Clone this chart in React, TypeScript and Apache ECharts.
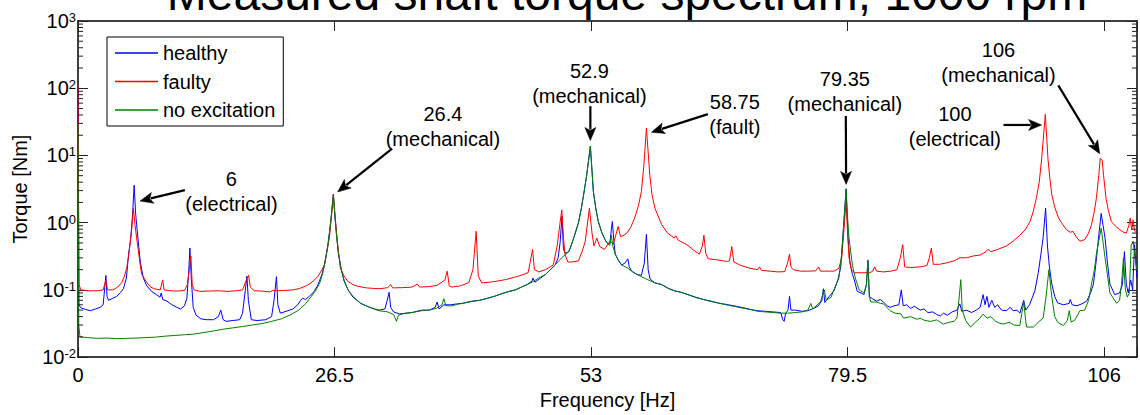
import React, { useEffect, useRef } from 'react';
import * as echarts from 'echarts';

const FONT = '"Liberation Sans", Arial, Helvetica, sans-serif';

const titleText = 'Measured shaft torque spectrum, 1000 rpm';
const xTicks = [0, 26.5, 53, 79.5, 106];
const X_MAX = 109.4;
const seriesNames = ['healthy', 'faulty', 'no excitation'];
const seriesColors = ['#0000ff', '#ff0000', '#008000'];

// [frequency Hz, torque Nm]
const healthy: [number, number][] = [
  [0, 105], [0.1, 0.06], [0.3, 0.054], [0.8, 0.051], [1.3, 0.049], [1.8, 0.052], [2.3, 0.055], [2.6, 0.06],
  [2.88, 0.164], [3.0, 0.08], [3.15, 0.07], [3.6, 0.075], [4.0, 0.08], [4.4, 0.092], [4.7, 0.105], [5.0, 0.15],
  [5.21, 0.32], [5.45, 0.6], [5.62, 1.2], [5.8, 3.6], [5.95, 1.4], [6.1, 0.8], [6.24, 0.5], [6.45, 0.25],
  [6.75, 0.15], [7.1, 0.115], [7.6, 0.095], [8.1, 0.085], [8.47, 0.078], [8.6, 0.09], [8.75, 0.072], [9.2, 0.068],
  [9.7, 0.06], [10.2, 0.055], [10.6, 0.052], [11.0, 0.058], [11.25, 0.075], [11.45, 0.2], [11.56, 0.42], [11.7, 0.15],
  [11.9, 0.055], [12.2, 0.042], [12.7, 0.037], [13.3, 0.036], [14.0, 0.036], [14.5, 0.04], [14.75, 0.05], [15.0, 0.036],
  [15.3, 0.034], [16.0, 0.035], [16.7, 0.036], [17.0, 0.045], [17.25, 0.09], [17.45, 0.16], [17.6, 0.07], [17.9, 0.036],
  [18.5, 0.035], [19.4, 0.036], [20.0, 0.04], [20.25, 0.07], [20.5, 0.157], [20.65, 0.06], [20.9, 0.045], [21.5, 0.048],
  [22.2, 0.052], [22.7, 0.06], [23.0, 0.07], [23.2, 0.075], [23.5, 0.072], [23.9, 0.08], [24.4, 0.095], [24.8, 0.12],
  [25.2, 0.17], [25.5, 0.25], [25.8, 0.45], [26.0, 0.75], [26.2, 1.4], [26.38, 2.65], [26.55, 1.2], [26.7, 0.7],
  [26.9, 0.35], [27.2, 0.2], [27.5, 0.135], [27.9, 0.1], [28.4, 0.078], [29.2, 0.063], [30.0, 0.056], [30.6, 0.052],
  [31.1, 0.05], [31.7, 0.052], [31.95, 0.07], [32.14, 0.092], [32.3, 0.055], [32.6, 0.047], [33.2, 0.044], [34.0, 0.045],
  [34.5, 0.046], [35.5, 0.05], [36.3, 0.05], [36.9, 0.055], [37.1, 0.066], [37.3, 0.052], [37.8, 0.06], [38.5, 0.06],
  [39.2, 0.062], [39.7, 0.063], [40.7, 0.068], [41.5, 0.07], [42.3, 0.075], [43.1, 0.081], [43.8, 0.088], [44.5, 0.095],
  [45.2, 0.1], [45.8, 0.11], [46.4, 0.12], [46.9, 0.135], [47.0, 0.15], [47.2, 0.13], [47.8, 0.15], [48.3, 0.17],
  [48.8, 0.2], [49.3, 0.235], [49.6, 0.3], [49.8, 0.5], [50.0, 1.25], [50.15, 0.4], [50.35, 0.35], [50.7, 0.37],
  [51.0, 0.48], [51.3, 0.65], [51.7, 1.0], [52.0, 1.64], [52.3, 3.0], [52.55, 5.1], [52.93, 13.8], [53.24, 2.9],
  [53.5, 1.6], [53.75, 1.04], [54.1, 0.72], [54.44, 0.56], [54.75, 0.48], [54.95, 0.5], [55.1, 0.8], [55.2, 1.04],
  [55.35, 0.55], [55.5, 0.34], [55.8, 0.28], [56.15, 0.235], [56.5, 0.25], [56.8, 0.29], [56.95, 0.22], [57.2, 0.19],
  [57.7, 0.17], [58.2, 0.165], [58.5, 0.25], [58.72, 0.67], [58.9, 0.2], [59.1, 0.145], [59.6, 0.127], [60.3, 0.12],
  [61.0, 0.105], [61.6, 0.097], [62.3, 0.092], [63.0, 0.085], [63.8, 0.078], [64.6, 0.072], [65.4, 0.068], [66.3, 0.063],
  [67.2, 0.06], [68.0, 0.057], [68.8, 0.054], [69.5, 0.051], [70.2, 0.049], [71.0, 0.048], [71.8, 0.047], [72.6, 0.046],
  [72.8, 0.036], [72.95, 0.034], [73.1, 0.045], [73.35, 0.05], [73.5, 0.08], [73.65, 0.05], [74.1, 0.05], [74.8, 0.048],
  [75.4, 0.049], [76.0, 0.053], [76.5, 0.058], [76.85, 0.07], [77.0, 0.104], [77.15, 0.065], [77.6, 0.08], [78.1, 0.097],
  [78.5, 0.14], [78.8, 0.22], [79.05, 0.74], [79.35, 3.2], [79.55, 0.6], [79.75, 0.25], [80.0, 0.17], [80.2, 0.14],
  [80.5, 0.095], [80.9, 0.09], [81.2, 0.085], [81.45, 0.12], [81.6, 0.27], [81.75, 0.08], [82.05, 0.074], [82.5, 0.068],
  [82.9, 0.072], [83.2, 0.066], [83.6, 0.058], [83.9, 0.055], [84.3, 0.058], [84.8, 0.06], [85.05, 0.1], [85.25, 0.058],
  [85.6, 0.06], [86.0, 0.053], [86.4, 0.057], [87.0, 0.05], [87.4, 0.052], [87.8, 0.046], [88.3, 0.047], [88.7, 0.043],
  [89.1, 0.041], [89.4, 0.045], [89.8, 0.042], [90.3, 0.047], [90.8, 0.05], [91.1, 0.062], [91.3, 0.048], [91.8, 0.05],
  [92.3, 0.046], [92.8, 0.05], [93.2, 0.055], [93.5, 0.085], [93.7, 0.06], [93.9, 0.08], [94.1, 0.055], [94.4, 0.07],
  [94.7, 0.055], [95.0, 0.06], [95.4, 0.05], [95.9, 0.049], [96.3, 0.055], [96.6, 0.049], [97.0, 0.05], [97.3, 0.045],
  [97.7, 0.07], [97.9, 0.05], [98.3, 0.06], [98.85, 0.097], [99.2, 0.18], [99.45, 0.32], [99.7, 0.6], [99.96, 1.64],
  [100.15, 0.45], [100.35, 0.22], [100.6, 0.122], [100.9, 0.08], [101.2, 0.064], [101.8, 0.06], [102.4, 0.063], [102.5, 0.072],
  [102.7, 0.06], [103.2, 0.058], [103.7, 0.062], [104.2, 0.068], [104.6, 0.09], [104.9, 0.122], [105.2, 0.28], [105.45, 0.65],
  [105.7, 1.37], [105.9, 0.9], [106.1, 0.59], [106.35, 0.25], [106.6, 0.122], [107.1, 0.085], [107.6, 0.09], [107.9, 0.12],
  [108.1, 0.37], [108.3, 0.12], [108.5, 0.09], [108.75, 0.14], [108.95, 0.1], [109.15, 0.47], [109.4, 0.15],
];

const faulty: [number, number][] = [
  [0, 110], [0.1, 0.12], [0.3, 0.1], [1.0, 0.097], [2.0, 0.097], [2.6, 0.1], [2.88, 0.14], [3.05, 0.1],
  [3.6, 0.1], [4.1, 0.11], [4.53, 0.129], [4.8, 0.16], [5.04, 0.214], [5.2, 0.3], [5.37, 0.47], [5.55, 0.8],
  [5.72, 1.64], [5.9, 0.9], [6.05, 0.6], [6.24, 0.378], [6.4, 0.25], [6.58, 0.171], [7.1, 0.129], [7.5, 0.11],
  [7.96, 0.103], [8.5, 0.1], [8.74, 0.14], [8.9, 0.1], [9.5, 0.097], [10.3, 0.096], [11.0, 0.098], [11.3, 0.12],
  [11.5, 0.2], [11.66, 0.32], [11.8, 0.12], [12.0, 0.1], [12.6, 0.095], [13.5, 0.096], [14.5, 0.097], [15.5, 0.095],
  [16.4, 0.097], [17.0, 0.1], [17.3, 0.13], [17.62, 0.165], [17.8, 0.11], [18.2, 0.097], [19.0, 0.096], [19.8, 0.093],
  [20.1, 0.098], [20.5, 0.097], [21.3, 0.098], [22.2, 0.1], [22.9, 0.105], [23.7, 0.117], [24.3, 0.135], [24.8, 0.16],
  [25.2, 0.2], [25.45, 0.235], [25.7, 0.36], [25.96, 0.59], [26.15, 1.1], [26.38, 2.6], [26.55, 1.3], [26.75, 0.6],
  [27.1, 0.21], [27.5, 0.16], [27.85, 0.135], [28.4, 0.12], [28.9, 0.113], [29.8, 0.107], [30.6, 0.105], [31.2, 0.104],
  [32.0, 0.108], [32.3, 0.12], [32.5, 0.107], [33.5, 0.108], [34.5, 0.11], [35.05, 0.122], [35.3, 0.11], [36.3, 0.112],
  [37.1, 0.117], [37.9, 0.14], [38.14, 0.19], [38.35, 0.115], [38.6, 0.11], [39.5, 0.115], [40.37, 0.128], [40.8, 0.2],
  [41.13, 0.745], [41.35, 0.16], [41.7, 0.127], [42.5, 0.13], [43.3, 0.135], [44.15, 0.142], [45.5, 0.16], [46.5, 0.18],
  [46.8, 0.3], [46.96, 0.4], [47.15, 0.2], [47.6, 0.185], [48.3, 0.2], [49.1, 0.235], [49.5, 0.45], [49.8, 1.0],
  [49.98, 1.55], [50.15, 0.6], [50.3, 0.34], [50.6, 0.26], [51.0, 0.26], [51.7, 0.27], [52.1, 0.38], [52.4, 0.53],
  [52.83, 1.64], [53.1, 0.7], [53.3, 0.45], [53.6, 0.59], [53.9, 0.44], [54.4, 0.4], [54.95, 0.53], [55.3, 0.48],
  [55.8, 0.88], [56.05, 0.62], [56.4, 0.65], [56.7, 0.7], [57.1, 0.85], [57.5, 1.17], [57.9, 1.8], [58.2, 2.9],
  [58.45, 7], [58.72, 25.4], [59.07, 5.08], [59.3, 2.6], [59.6, 1.64], [60.3, 0.93], [60.9, 0.7], [61.6, 0.59],
  [61.75, 0.64], [62.0, 0.55], [63.0, 0.46], [63.6, 0.39], [64.2, 0.34], [64.5, 0.45], [64.66, 0.65], [64.85, 0.35],
  [65.1, 0.29], [66.0, 0.28], [67.0, 0.265], [67.3, 0.27], [67.54, 0.44], [67.75, 0.26], [68.5, 0.23], [69.4, 0.21],
  [70.2, 0.2], [70.4, 0.22], [70.6, 0.195], [71.5, 0.19], [72.3, 0.185], [73.0, 0.187], [73.3, 0.25], [73.5, 0.34],
  [73.65, 0.22], [73.9, 0.2], [74.6, 0.19], [75.4, 0.19], [76.2, 0.192], [76.5, 0.22], [76.7, 0.19], [77.4, 0.19],
  [78.1, 0.19], [78.6, 0.21], [78.9, 0.3], [79.1, 0.7], [79.35, 2.1], [79.5, 0.7], [79.65, 0.3], [79.9, 0.2],
  [80.2, 0.18], [81.0, 0.18], [81.8, 0.18], [82.1, 0.19], [82.3, 0.22], [82.5, 0.19], [83.2, 0.185], [84.0, 0.19],
  [84.6, 0.2], [84.95, 0.3], [85.2, 0.47], [85.4, 0.22], [86.0, 0.215], [87.0, 0.22], [87.7, 0.23], [87.95, 0.3],
  [88.16, 0.42], [88.35, 0.24], [89.0, 0.24], [89.6, 0.25], [90.5, 0.27], [91.1, 0.3], [91.8, 0.3], [92.5, 0.32],
  [93.2, 0.33], [93.8, 0.37], [94.0, 0.4], [94.3, 0.37], [95.0, 0.4], [95.9, 0.45], [96.6, 0.53], [97.3, 0.65],
  [97.9, 0.8], [98.35, 1.04], [98.7, 1.5], [99.0, 2.3], [99.3, 4], [99.55, 8.9], [99.93, 41], [100.2, 9],
  [100.4, 4.5], [100.6, 2.6], [100.9, 1.7], [101.3, 1.17], [101.7, 0.95], [102.1, 0.79], [102.5, 0.72], [102.8, 0.74],
  [103.1, 0.62], [103.5, 0.53], [104.0, 0.56], [104.4, 0.7], [104.7, 0.93], [105.0, 1.5], [105.2, 2.3], [105.45, 5.0],
  [105.6, 9.0], [105.8, 8.5], [105.95, 5.0], [106.2, 2.3], [106.45, 1.5], [106.75, 1.04], [107.2, 0.88], [107.6, 0.79],
  [108.0, 0.72], [108.3, 0.7], [108.55, 0.9], [108.7, 1.17], [108.85, 0.78], [109.0, 1.1], [109.15, 0.75], [109.4, 0.7],
];

const noExcitation: [number, number][] = [
  [0, 30], [0.08, 0.03], [0.2, 0.02], [1.0, 0.0195], [2.0, 0.019], [3.0, 0.0192], [4.0, 0.0188], [5.0, 0.019],
  [6.0, 0.0192], [7.0, 0.0195], [8.0, 0.0198], [9.0, 0.0205], [10.0, 0.021], [11.0, 0.0215], [12.0, 0.022], [13.0, 0.0232],
  [14.0, 0.0245], [15.0, 0.026], [16.0, 0.0272], [17.0, 0.0285], [18.0, 0.03], [19.0, 0.0315], [20.0, 0.034], [21.0, 0.037],
  [22.0, 0.043], [22.8, 0.05], [23.5, 0.062], [24.1, 0.08], [24.6, 0.1], [25.0, 0.13], [25.3, 0.18], [25.6, 0.3],
  [25.85, 0.5], [26.1, 1.0], [26.38, 2.6], [26.55, 1.2], [26.7, 0.65], [26.9, 0.35], [27.2, 0.2], [27.5, 0.135],
  [27.9, 0.1], [28.4, 0.08], [29.2, 0.063], [30.0, 0.056], [30.6, 0.052], [31.1, 0.049], [32.0, 0.047], [32.6, 0.043],
  [32.9, 0.034], [33.1, 0.042], [33.8, 0.045], [34.5, 0.046], [35.5, 0.049], [36.3, 0.05], [37.0, 0.053], [37.6, 0.06],
  [37.8, 0.074], [38.0, 0.058], [38.6, 0.058], [39.2, 0.061], [39.7, 0.063], [40.7, 0.067], [41.5, 0.07], [42.3, 0.075],
  [43.1, 0.081], [43.8, 0.088], [44.5, 0.094], [45.2, 0.1], [45.8, 0.11], [46.4, 0.12], [46.9, 0.13], [47.6, 0.15],
  [48.3, 0.17], [48.8, 0.2], [49.3, 0.235], [49.97, 0.3], [50.4, 0.34], [50.7, 0.37], [51.0, 0.48], [51.3, 0.65],
  [51.7, 1.0], [52.0, 1.64], [52.3, 3.0], [52.55, 5.1], [52.93, 13.8], [53.24, 2.9], [53.5, 1.6], [53.75, 1.04],
  [54.1, 0.72], [54.44, 0.56], [54.75, 0.48], [54.95, 0.46], [55.1, 0.65], [55.25, 0.45], [55.5, 0.34], [55.8, 0.28],
  [56.15, 0.235], [56.8, 0.21], [57.2, 0.19], [57.9, 0.165], [58.7, 0.145], [59.6, 0.127], [60.3, 0.12], [61.0, 0.105],
  [61.6, 0.097], [62.3, 0.092], [63.0, 0.085], [63.8, 0.077], [64.6, 0.072], [65.4, 0.067], [66.3, 0.063], [67.2, 0.059],
  [68.0, 0.056], [68.8, 0.053], [69.5, 0.051], [70.2, 0.048], [71.0, 0.047], [71.8, 0.046], [72.6, 0.045], [73.3, 0.045],
  [74.1, 0.046], [74.8, 0.047], [75.4, 0.05], [75.7, 0.063], [75.9, 0.052], [76.7, 0.066], [77.1, 0.1], [77.3, 0.07],
  [77.8, 0.078], [78.2, 0.11], [78.6, 0.15], [78.9, 0.35], [79.1, 0.9], [79.35, 3.1], [79.5, 1.2], [79.65, 0.59],
  [80.0, 0.235], [80.3, 0.15], [80.7, 0.1], [81.2, 0.09], [81.45, 0.12], [81.6, 0.28], [81.75, 0.08], [81.9, 0.066],
  [82.5, 0.066], [82.9, 0.063], [83.2, 0.062], [83.9, 0.049], [84.4, 0.045], [85.0, 0.044], [85.3, 0.038], [86.0, 0.04],
  [86.7, 0.0365], [87.0, 0.038], [87.5, 0.035], [88.1, 0.034], [88.7, 0.0358], [89.4, 0.031], [90.0, 0.033], [90.5, 0.034],
  [90.8, 0.038], [91.0, 0.07], [91.2, 0.142], [91.35, 0.05], [91.7, 0.035], [92.2, 0.028], [92.7, 0.033], [93.1, 0.037],
  [93.5, 0.0436], [93.9, 0.038], [94.3, 0.04], [94.8, 0.034], [95.2, 0.032], [95.6, 0.031], [96.2, 0.033], [96.7, 0.03],
  [97.3, 0.0295], [97.5, 0.045], [97.7, 0.066], [97.9, 0.035], [98.0, 0.028], [98.7, 0.028], [99.2, 0.033], [99.7, 0.038],
  [100.0, 0.078], [100.3, 0.2], [100.6, 0.078], [100.9, 0.04], [101.2, 0.033], [101.8, 0.0295], [102.2, 0.035], [102.4, 0.049],
  [102.6, 0.033], [103.0, 0.036], [103.5, 0.049], [104.0, 0.05], [104.4, 0.07], [104.7, 0.122], [105.0, 0.2], [105.2, 0.34],
  [105.7, 0.83], [106.1, 0.3], [106.6, 0.09], [107.3, 0.063], [107.6, 0.07], [107.8, 0.12], [108.0, 0.3], [108.2, 0.1],
  [108.4, 0.078], [108.6, 0.09], [108.8, 0.46], [109.0, 0.53], [109.2, 0.3], [109.4, 0.2],
];

// annotation anchors in data coordinates [Hz, Nm]
const annotations: { text: string; label: [number, number]; tail: [number, number]; tip: [number, number] }[] = [
  { text: '6\n(electrical)', label: [15.85, 2.89], tail: [11.04, 3.05], tip: [6.41, 2.1] },
  { text: '26.4\n(mechanical)', label: [37.7, 27.0], tail: [32.45, 12.6], tip: [26.82, 2.87] },
  { text: '52.9\n(mechanical)', label: [52.83, 118], tail: [52.93, 54.1], tip: [52.93, 16.7] },
  { text: '58.75\n(fault)', label: [67.85, 40.5], tail: [65.07, 41.2], tip: [59.24, 22.1] },
  { text: '79.35\n(mechanical)', label: [79.22, 88.4], tail: [79.32, 38.5], tip: [79.35, 3.71] },
  { text: '100\n(electrical)', label: [90.59, 27.0], tail: [95.61, 28.4], tip: [99.55, 28.4] },
  { text: '106\n(mechanical)', label: [95.09, 245], tail: [101.27, 110], tip: [105.55, 10.6] },
];

const seriesData = [healthy, faulty, noExcitation];

export default function App() {
  const ref = useRef<HTMLDivElement>(null);
  useEffect(() => {
    const chart = echarts.init(ref.current!, null, { renderer: 'svg' });
    const axisLineStyle = { color: '#000', width: 1.5 };
    const tickStyle = { color: '#222', width: 1 };
    const option: any = {
      animation: false,
      backgroundColor: '#ffffff',
      grid: { left: 78, right: -1, top: 21, bottom: 55, containLabel: false },
      legend: {
        data: seriesNames,
        orient: 'vertical',
        left: 107,
        top: 37,
        icon: 'rect',
        itemWidth: 43,
        itemHeight: 1.5,
        itemGap: 8.5,
        padding: [6, 8, 6, 8],
        borderColor: '#000',
        borderWidth: 1,
        borderRadius: 0,
        backgroundColor: '#fff',
        textStyle: { fontSize: 20, color: '#000', fontFamily: FONT },
      },
      xAxis: [
        {
          type: 'value', min: 0, max: X_MAX, interval: 26.5, position: 'bottom',
          name: 'Frequency [Hz]', nameLocation: 'middle', nameGap: 30,
          nameTextStyle: { fontSize: 20, color: '#000', fontFamily: FONT },
          axisLine: { onZero: false, lineStyle: axisLineStyle },
          axisTick: { inside: true, length: 10, lineStyle: tickStyle },
          axisLabel: {
            fontSize: 20, color: '#000', fontFamily: FONT, margin: 8,
            formatter: (v: number) => (xTicks.some((t) => Math.abs(t - v) < 1e-6) ? String(v) : ''),
          },
          splitLine: { show: false },
        },
        {
          type: 'value', min: 0, max: X_MAX, interval: 26.5, position: 'top',
          axisLine: { onZero: false, lineStyle: axisLineStyle },
          axisTick: { inside: true, length: 10, lineStyle: tickStyle },
          axisLabel: { show: false },
          splitLine: { show: false },
        },
      ],
      yAxis: [
        {
          type: 'log', logBase: 10, min: 0.01, max: 1000, position: 'left',
          name: 'Torque [Nm]', nameLocation: 'middle', nameGap: 48,
          nameTextStyle: { fontSize: 20, color: '#000', fontFamily: FONT },
          axisLine: { show: true, onZero: false, lineStyle: axisLineStyle },
          axisTick: { show: true, inside: true, length: 10, lineStyle: tickStyle },
          axisLabel: {
            margin: 2,
            formatter: (v: number) => `{b|10}{s|${Math.round(Math.log10(v))}}`,
            rich: {
              b: { fontSize: 20, lineHeight: 20, color: '#000', fontFamily: FONT, padding: [4, 0, 0, 0], verticalAlign: 'bottom' },
              s: { fontSize: 13, lineHeight: 13, color: '#000', fontFamily: FONT, verticalAlign: 'top' },
            },
          },
          splitLine: { show: false },
        },
        {
          type: 'log', logBase: 10, min: 0.01, max: 1000, position: 'right',
          axisLine: { show: true, onZero: false, lineStyle: axisLineStyle },
          axisTick: { show: true, inside: true, length: 10, lineStyle: tickStyle },
          axisLabel: { show: false },
          splitLine: { show: false },
        },
      ],
      series: seriesNames.map((name, i) => ({
        name,
        type: 'line',
        xAxisIndex: 0,
        yAxisIndex: 0,
        data: seriesData[i],
        showSymbol: false,
        symbol: 'none',
        color: seriesColors[i],
        lineStyle: { color: seriesColors[i], width: 1 },
        itemStyle: { color: seriesColors[i] },
        emphasis: { disabled: true },
        z: 2 + i,
      })),
    };
    chart.setOption(option);

    const px = (p: [number, number]) =>
      chart.convertToPixel({ xAxisIndex: 0, yAxisIndex: 0 }, p) as number[];

    const graphics: any[] = [];
    // title
    graphics.push({
      type: 'text', x: 627, y: -7, z: 100,
      style: { text: titleText, font: `48px ${FONT}`, fill: '#000', textAlign: 'center', textVerticalAlign: 'middle' },
    });
    // minor log ticks
    const x0 = px([0, 1])[0];
    const x1 = px([X_MAX, 1])[0];
    for (let e = -2; e < 3; e++) {
      for (let k = 2; k <= 9; k++) {
        const y = px([0, k * Math.pow(10, e)])[1];
        graphics.push({ type: 'line', z: 50, shape: { x1: x0, y1: y, x2: x0 + 5, y2: y }, style: { stroke: '#222', lineWidth: 1 } });
        graphics.push({ type: 'line', z: 50, shape: { x1: x1, y1: y, x2: x1 - 5, y2: y }, style: { stroke: '#222', lineWidth: 1 } });
      }
    }
    // annotations
    annotations.forEach((a) => {
      const lp = px(a.label);
      const tp = px(a.tail);
      const hp = px(a.tip);
      graphics.push({
        type: 'text', x: lp[0], y: lp[1], z: 100,
        style: { text: a.text, font: `20px ${FONT}`, fill: '#000', textAlign: 'center', textVerticalAlign: 'middle', lineHeight: 25 },
      });
      const dx = hp[0] - tp[0];
      const dy = hp[1] - tp[1];
      const len = Math.sqrt(dx * dx + dy * dy);
      const ux = dx / len;
      const uy = dy / len;
      const L = 13;
      const W = 5.5;
      const bx = hp[0] - ux * L;
      const by = hp[1] - uy * L;
      graphics.push({
        type: 'line', z: 100,
        shape: { x1: tp[0], y1: tp[1], x2: bx + ux * 2, y2: by + uy * 2 },
        style: { stroke: '#000', lineWidth: 2.2 },
      });
      graphics.push({
        type: 'polygon', z: 100,
        shape: { points: [[hp[0], hp[1]], [bx - uy * W, by + ux * W], [bx + ux * 3, by + uy * 3], [bx + uy * W, by - ux * W]] },
        style: { fill: '#000', stroke: '#000', lineWidth: 0.5 },
      });
    });
    chart.setOption({ graphic: graphics });

    return () => chart.dispose();
  }, []);

  return <div ref={ref} style={{ position: 'absolute', left: 0, top: 0, width: 1140, height: 415, background: '#fff' }} />;
}
